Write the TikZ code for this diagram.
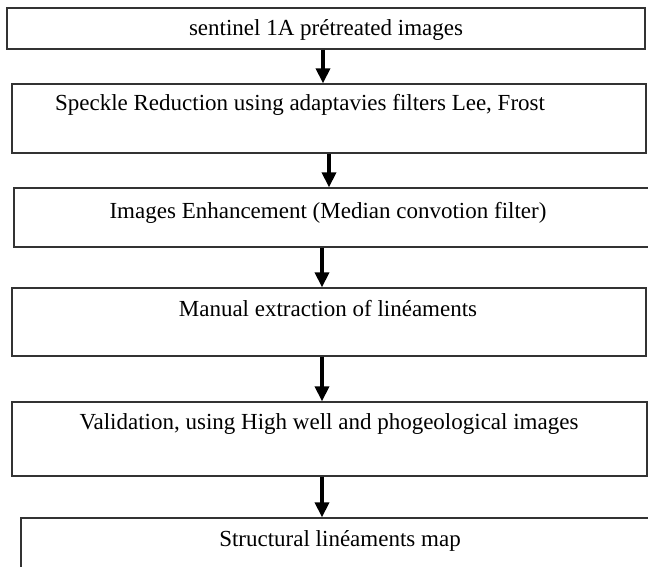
\documentclass[tikz,border=0pt]{standalone}
\usepackage{fontspec}
\setmainfont{Liberation Serif}
\usetikzlibrary{arrows.meta}

\tikzset{
  stepbox/.style={draw=black!80,line width=1.3pt,rectangle,inner sep=0pt},
  steptext/.style={font=\fontsize{23}{27}\selectfont,inner sep=0pt},
  flow/.style={line width=3.5pt,-{Triangle[width=14pt,length=15pt]}}
}

\begin{document}
\begin{tikzpicture}[x=1pt,y=-1pt]

                \useasboundingbox (0,0) rectangle (648,567);
                \clip (0,0) rectangle (648,567);

                \node[stepbox,minimum width=638pt,minimum height=41pt] (b1) at (326,28.5) {};
                \node[stepbox,minimum width=634pt,minimum height=69pt] (b2) at (329,118.5) {};
                \node[stepbox,minimum width=646pt,minimum height=59pt] (b3) at (337,217.5) {};
                \node[stepbox,minimum width=634pt,minimum height=68pt] (b4) at (329,322) {};
                \node[stepbox,minimum width=635pt,minimum height=74pt] (b5) at (329.5,439) {};
                \node[stepbox,minimum width=639pt,minimum height=72pt] (b6) at (340.5,554) {};

                \node[steptext] (t1) at (326,30) {sentinel 1A prétreated images};
                \node[steptext] (t2) at (300,105) {Speckle Reduction using adaptavies filters Lee, Frost};
                \node[steptext] (t3) at (328,213) {Images Enhancement (Median convotion filter)};
                \node[steptext] (t4) at (328,309) {Manual extraction of linéaments};
                \node[steptext] (t5) at (329,424) {Validation, using High well and phogeological images};
                \node[steptext] (t6) at (340,541) {Structural linéaments map};

                \coordinate (a1) at (323,0);
                \coordinate (a2) at (329,0);
                \coordinate (a3) at (322,0);

                \draw[flow] (b1.south -| a1)--(b2.north -| a1);
                \draw[flow] (b2.south -| a2)--(b3.north -| a2);
                \draw[flow] (b3.south -| a3)--(b4.north -| a3);
                \draw[flow] (b4.south -| a3)--(b5.north -| a3);
                \draw[flow] (b5.south -| a3)--(b6.north -| a3);

            \end{tikzpicture}
\end{document}
